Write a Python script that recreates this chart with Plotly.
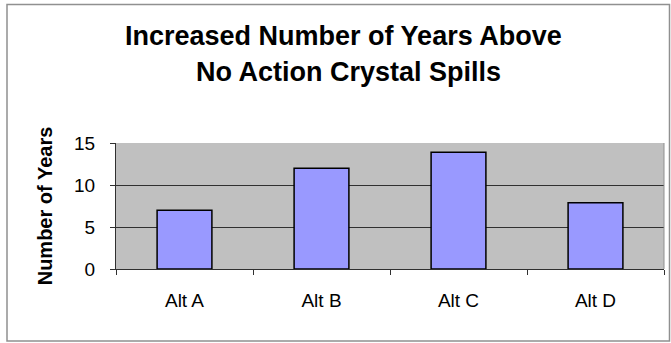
import plotly.graph_objects as go

categories = ["Alt A", "Alt B", "Alt C", "Alt D"]
values = [7, 12, 13.9, 7.9]
y_ticks = [0, 5, 10, 15]
title_lines = ["Increased Number of Years Above", "No Action Crystal Spills"]

W, H = 671, 343
ML, MR, MT, MB = 116, 7, 143, 74
PH = H - MT - MB
PW = W - ML - MR
FONT = "Liberation Sans, Arial, sans-serif"


def py(p):  # pixel y -> paper y
    return (H - MB - p) / PH


def px(p):  # pixel x -> paper x
    return (p - ML) / PW


fig = go.Figure(go.Bar(
    x=categories, y=values,
    marker=dict(color="#9999FF", line=dict(color="#000000", width=1.5)),
    width=0.4,
))

fig.update_layout(
    width=W, height=H,
    margin=dict(l=ML, r=MR, t=MT, b=MB),
    paper_bgcolor="white", plot_bgcolor="#C0C0C0",
    showlegend=False,
    font=dict(family=FONT, color="#000000"),
)
for txt, cx, cy in zip(title_lines, [343, 348], [36, 72]):
    fig.add_annotation(text="<b>%s</b>" % txt, xref="paper", yref="paper",
                       x=px(cx), y=py(cy), xanchor="center", yanchor="middle",
                       showarrow=False, font=dict(family=FONT, size=27, color="#000000"))

fig.update_xaxes(
    showline=True, linecolor="#303030", linewidth=1,
    ticks="outside", tickson="boundaries", ticklen=5, tickcolor="#303030",
    tickfont=dict(size=19, family=FONT), showgrid=False,
    ticklabelstandoff=14,
)
fig.update_yaxes(
    range=[0, 15], tickvals=y_ticks,
    showline=True, linecolor="#303030", linewidth=1,
    ticks="outside", ticklen=5, tickcolor="#303030",
    gridcolor="#303030", gridwidth=1, zeroline=False,
    tickfont=dict(size=19, family=FONT),
    ticklabelstandoff=11,
    title=dict(text="<b>Number of Years</b>", font=dict(size=20, family=FONT), standoff=16),
)
# plot area right border
fig.add_shape(type="line", xref="paper", yref="paper", x0=1, x1=1, y0=0, y1=1,
              line=dict(color="#909090", width=1))
# outer chart border
fig.add_shape(type="rect", xref="paper", yref="paper",
              x0=px(7), x1=px(669.5), y0=py(341), y1=py(4.5),
              line=dict(color="#909090", width=1.5), layer="below")
fig.write_html("out.html", config={"displayModeBar": False},
               post_script="document.body.style.margin='0';")
